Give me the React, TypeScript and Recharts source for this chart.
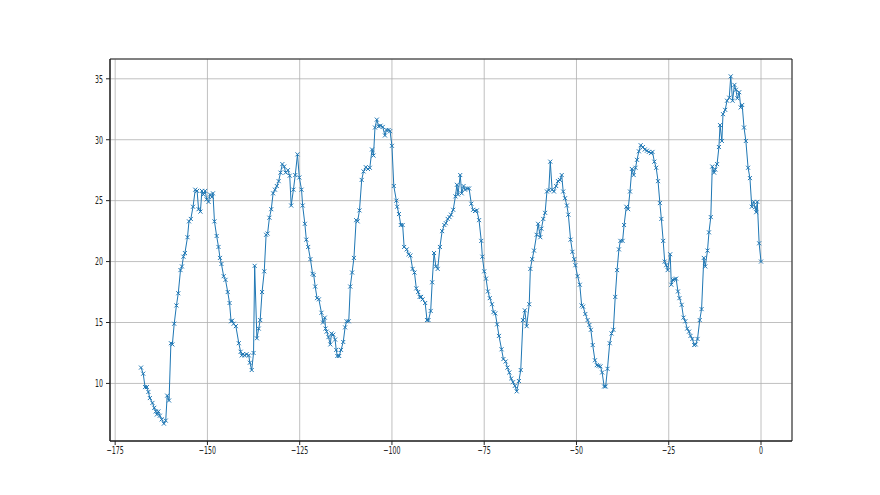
import React from "react";
import {
  LineChart,
  Line,
  XAxis,
  YAxis,
  CartesianGrid,
  ReferenceArea,
} from "recharts";

// hours before now (x) and the reading at that time (y)
const hours = [
  -168.0, -167.4, -166.9, -166.4, -166.0, -165.6, -164.9, -164.4, -164.0, -163.7,
  -163.3, -162.9, -162.4, -161.8, -161.3, -160.9, -160.4, -159.9, -159.5, -159.0,
  -158.4, -157.9, -157.3, -156.9, -156.5, -156.1, -155.4, -155.0, -154.5, -153.9,
  -153.3, -152.8, -152.4, -151.9, -151.5, -151.1, -150.6, -150.2, -149.7, -149.3,
  -148.8, -148.5, -148.1, -147.5, -147.0, -146.6, -146.2, -145.6, -145.1, -144.5,
  -144.0, -143.6, -143.3, -142.9, -142.3, -141.5, -141.0, -140.7, -140.4, -139.9,
  -139.4, -138.8, -138.5, -138.0, -137.5, -137.2, -136.6, -136.1, -135.7, -135.2,
  -134.6, -134.1, -133.7, -133.2, -132.7, -132.2, -131.7, -131.2, -130.7, -130.2,
  -129.7, -129.2, -128.8, -128.2, -127.7, -127.3, -126.7, -126.2, -125.6, -125.1,
  -124.5, -124.2, -123.6, -123.2, -122.7, -122.1, -121.5, -121.2, -120.8, -120.3,
  -119.8, -119.1, -118.7, -118.2, -118.0, -117.7, -117.2, -116.7, -116.4, -115.9,
  -115.4, -115.1, -114.8, -114.3, -113.8, -113.2, -112.7, -112.3, -111.7, -111.3,
  -110.8, -110.3, -109.7, -109.3, -108.8, -108.2, -107.7, -107.1, -106.5, -106.0,
  -105.4, -105.0, -104.6, -104.1, -103.6, -103.1, -102.5, -101.9, -101.5, -100.9,
  -100.5, -100.0, -99.5, -98.8, -98.6, -98.1, -97.6, -97.1, -96.7, -96.0,
  -95.5, -95.0, -94.4, -93.9, -93.4, -92.9, -92.5, -92.1, -91.7, -91.0,
  -90.5, -90.1, -89.5, -89.1, -88.6, -88.1, -87.6, -87.0, -86.4, -85.8,
  -85.4, -84.9, -84.4, -84.0, -83.4, -82.8, -82.4, -82.1, -81.5, -81.1,
  -80.6, -80.2, -79.6, -79.1, -78.5, -78.0, -77.5, -77.0, -76.4, -75.8,
  -75.5, -75.0, -74.5, -74.0, -73.5, -72.9, -72.5, -72.0, -71.5, -71.0,
  -70.3, -69.8, -69.2, -68.7, -68.2, -67.7, -67.2, -66.7, -66.2, -65.6,
  -65.1, -64.5, -64.0, -63.5, -62.8, -62.5, -62.0, -61.5, -60.8, -60.4,
  -59.8, -59.5, -59.0, -58.5, -58.0, -57.5, -57.1, -56.6, -56.1, -55.5,
  -55.0, -54.5, -54.0, -53.6, -53.1, -52.6, -52.2, -51.6, -51.1, -50.6,
  -50.3, -49.7, -49.1, -48.6, -48.2, -47.6, -47.0, -46.5, -46.1, -45.6,
  -45.0, -44.5, -44.0, -43.5, -43.05, -42.5, -42.1, -41.6, -41.0, -40.5,
  -40.0, -39.5, -39.0, -38.5, -38.1, -37.5, -37.1, -36.5, -36.0, -35.5,
  -35.0, -34.5, -34.0, -33.6, -33.1, -32.6, -32.0, -31.5, -30.9, -30.4,
  -29.8, -29.4, -28.9, -28.4, -27.9, -27.4, -27.0, -26.5, -26.1, -25.7,
  -25.3, -24.6, -24.3, -23.9, -23.4, -23.0, -22.5, -22.1, -21.5, -21.0,
  -20.5, -20.0, -19.5, -19.1, -18.6, -18.1, -17.7, -17.2, -16.6, -16.1,
  -15.5, -15.1, -14.5, -14.1, -13.6, -13.2, -12.7, -12.4, -11.9, -11.4,
  -11.1, -10.6, -10.3, -9.7, -9.2, -8.6, -8.2, -7.7, -7.2, -6.8,
  -6.4, -5.9, -5.5, -5.1, -4.6, -4.1, -3.5, -3.0, -2.5, -2.0,
  -1.6, -1.3, -1.0, -0.5, 0.0,
];

const values = [
  11.3, 10.8, 9.7, 9.7, 9.3, 8.8, 8.4, 8.0, 7.7, 7.45,
  7.7, 7.35, 7.05, 6.7, 6.95, 9.0, 8.6, 13.3, 13.2, 14.9,
  16.4, 17.4, 19.3, 19.6, 20.4, 20.7, 22.0, 23.3, 23.5, 24.5,
  25.9, 25.8, 24.3, 24.1, 25.8, 25.5, 25.8, 25.1, 24.9, 25.5,
  25.3, 25.6, 23.3, 22.1, 21.2, 20.3, 19.8, 18.8, 18.5, 17.5,
  16.6, 15.1, 15.15, 14.9, 14.7, 13.3, 12.6, 12.3, 12.4, 12.3,
  12.4, 12.3, 11.7, 11.1, 12.5, 19.65, 13.7, 14.5, 15.2, 17.5,
  19.2, 22.2, 22.3, 23.6, 24.3, 25.6, 25.9, 26.2, 26.6, 27.3,
  28.0, 27.8, 27.3, 27.5, 27.05, 24.6, 25.9, 27.1, 28.8, 26.9,
  25.9, 24.6, 23.1, 21.8, 21.2, 20.2, 19.0, 18.9, 17.95, 17.0,
  16.9, 15.8, 15.0, 15.4, 14.5, 14.25, 13.8, 13.2, 14.1, 14.0,
  13.6, 12.75, 12.25, 12.25, 12.75, 13.4, 14.6, 15.1, 15.1, 17.95,
  19.1, 20.3, 23.4, 23.3, 24.2, 26.7, 27.4, 27.75, 27.6, 27.7,
  29.2, 28.7, 31.0, 31.65, 31.1, 31.15, 31.05, 30.35, 30.8, 30.8,
  30.7, 29.5, 26.2, 25.0, 24.5, 23.9, 23.0, 23.0, 21.2, 21.0,
  20.6, 20.5, 19.4, 19.1, 17.8, 17.5, 17.1, 17.1, 16.9, 16.6,
  15.2, 15.2, 15.95, 18.3, 20.7, 19.6, 19.4, 21.2, 22.5, 23.0,
  23.15, 23.5, 23.65, 23.85, 24.25, 25.35, 26.3, 25.5, 27.1, 25.6,
  26.2, 25.9, 26.0, 26.0, 24.75, 24.25, 24.15, 24.2, 23.4, 21.7,
  20.4, 19.2, 18.6, 17.55, 17.0, 16.5, 15.85, 15.75, 14.85, 13.9,
  12.8, 12.0, 11.8, 11.3, 10.9, 10.4, 10.1, 9.8, 9.35, 10.2,
  11.1, 15.2, 16.0, 14.7, 16.5, 19.4, 20.2, 20.9, 22.2, 23.1,
  22.0, 22.7, 23.5, 24.0, 25.75, 25.85, 28.2, 25.9, 25.75, 26.2,
  26.6, 26.7, 27.1, 25.75, 25.2, 24.6, 23.85, 21.8, 20.8, 20.2,
  19.7, 18.8, 18.1, 16.4, 16.3, 15.7, 15.2, 14.8, 14.4, 13.15,
  11.9, 11.5, 11.45, 11.4, 10.9, 9.75, 9.75, 11.2, 13.3, 14.1,
  14.4, 17.1, 19.3, 21.0, 21.7, 21.7, 23.0, 24.5, 24.3, 25.75,
  27.6, 27.1, 27.7, 28.35, 29.05, 29.55, 29.4, 29.2, 29.1, 29.0,
  28.9, 29.0, 28.2, 27.7, 26.6, 24.8, 23.5, 21.7, 20.0, 19.7,
  19.3, 20.6, 18.1, 18.5, 18.55, 18.6, 17.55, 17.0, 16.45, 15.4,
  15.1, 14.5, 14.25, 13.9, 13.65, 13.15, 13.2, 13.65, 15.2, 16.1,
  20.3, 19.6, 20.9, 22.4, 23.65, 27.8, 27.3, 27.55, 28.0, 29.4,
  31.2, 29.9, 32.1, 32.45, 33.2, 33.45, 35.2, 33.2, 34.5, 34.1,
  33.4, 33.9, 32.65, 32.85, 31.0, 29.9, 27.7, 26.85, 24.5, 24.9,
  24.45, 24.05, 24.9, 21.5, 20.0,
];

const xTicks = [-175, -150, -125, -100, -75, -50, -25, 0];
const yTicks = [10, 15, 20, 25, 30, 35];

const data = hours.map((x, i) => ({ x, y: values[i] }));

// matplotlib-like autoscale: 5% padding on both ends
const pad = (arr: number[]): [number, number] => {
  const lo = Math.min(...arr);
  const hi = Math.max(...arr);
  const m = (hi - lo) * 0.05;
  return [lo - m, hi + m];
};
const xDomain = pad(hours);
const yDomain = pad(values);

const BLUE = "#1f77b4";
const FRAME = "#222";
const fmt = (v: number) => (v < 0 ? "\u2212" + Math.abs(v) : String(v));

const XMark = ({ cx, cy }: { cx?: number; cy?: number }) => {
  if (cx == null || cy == null) return null;
  const s = 2;
  return (
    <path
      d={`M${cx - s},${cy - s}L${cx + s},${cy + s}M${cx - s},${cy + s}L${cx + s},${cy - s}`}
      stroke={BLUE}
      strokeWidth={1}
      fill="none"
    />
  );
};

const BottomTick = (props: any) => {
  const { x, y, payload } = props;
  return (
    <g transform={`translate(${x},${y})`}>
      <text
        transform="scale(0.6,1)"
        textAnchor="middle"
        dy="0.71em"
        fontSize={10.5}
        fontFamily="DejaVu Sans"
        fill="#222"
      >
        {fmt(payload.value)}
      </text>
    </g>
  );
};

const LeftTick = (props: any) => {
  const { x, y, payload } = props;
  return (
    <g transform={`translate(${x},${y})`}>
      <text
        transform="scale(0.6,1)"
        textAnchor="end"
        dy="0.36em"
        fontSize={10.5}
        fontFamily="DejaVu Sans"
        fill="#222"
      >
        {fmt(payload.value)}
      </text>
    </g>
  );
};

const App = () => (
  <div
    style={{
      position: "absolute",
      left: 0,
      top: 0,
      width: 880,
      height: 495,
      background: "#fff",
    }}
  >
    <LineChart
      width={880}
      height={495}
      data={data}
      margin={{ top: 59, right: 88, bottom: 24, left: 70 }}
    >
      <CartesianGrid stroke="#b0b0b0" strokeWidth={0.8} />
      <XAxis
        dataKey="x"
        type="number"
        domain={xDomain}
        ticks={xTicks}
        allowDataOverflow
        height={30}
        tickSize={4}
        tickMargin={2}
        stroke={FRAME}
        tick={<BottomTick />}
      />
      <YAxis
        type="number"
        domain={yDomain}
        ticks={yTicks}
        allowDataOverflow
        width={40}
        tickSize={4}
        tickMargin={3}
        stroke={FRAME}
        tick={<LeftTick />}
      />
      <Line
        type="linear"
        dataKey="y"
        stroke={BLUE}
        strokeWidth={1}
        dot={(p: any) => <XMark key={`m-${p.index}`} cx={p.cx} cy={p.cy} />}
        activeDot={false}
        isAnimationActive={false}
      />
      {/* top/right spines of the frame */}
      <ReferenceArea
        x1={xDomain[0]}
        x2={xDomain[1]}
        y1={yDomain[0]}
        y2={yDomain[1]}
        fill="none"
        fillOpacity={0}
        stroke={FRAME}
        strokeWidth={1}
        strokeOpacity={1}
        ifOverflow="visible"
      />
    </LineChart>
  </div>
);

export default App;
